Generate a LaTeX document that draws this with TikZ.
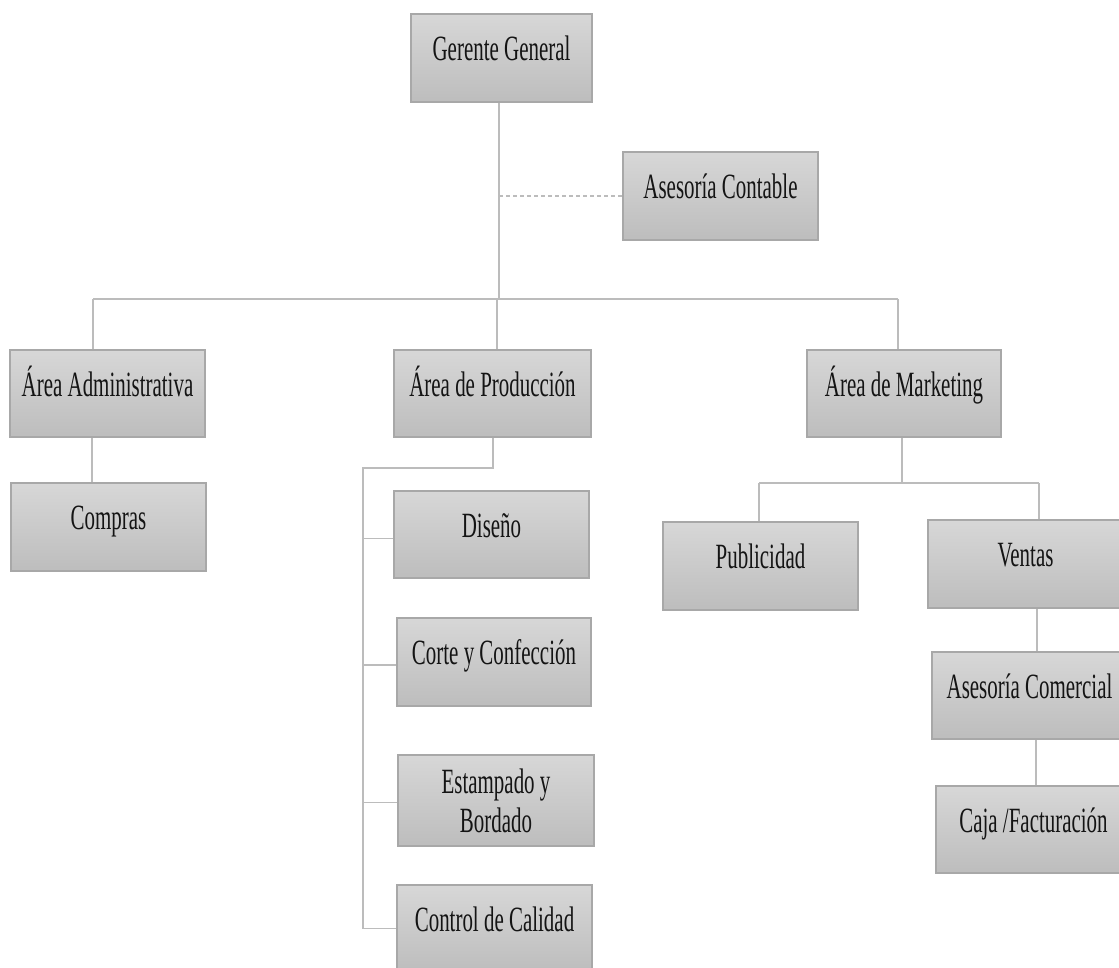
\documentclass[tikz,border=0pt]{standalone}
\usepackage{fontspec}
\setmainfont{Liberation Serif}[FakeStretch=0.59]
\definecolor{boxtop}{RGB}{215,215,215}
\definecolor{boxbot}{RGB}{189,189,189}
\definecolor{boxline}{RGB}{168,168,168}
\definecolor{linkgray}{RGB}{188,188,188}
\definecolor{inkc}{RGB}{20,20,20}
\begin{document}
\begin{tikzpicture}[x=1pt,y=-1pt,
  orgbox/.style={draw=boxline, line width=1.2pt, top color=boxtop, bottom color=boxbot,
    minimum width=195pt, minimum height=87pt, inner sep=0pt, text=inkc,
    font=\fontsize{35.5}{39}\selectfont, text height=26pt, text depth=21pt, align=center},
  twoline/.style={text height={}, text depth={}},
  link/.style={draw=linkgray, line width=1.5pt},
  dottedlink/.style={draw=linkgray, line width=1.5pt, dash pattern=on 4pt off 3pt},
]
\useasboundingbox (0,0) rectangle (1119,967);
\clip (0,0) rectangle (1119,967);

% boxes
\node[orgbox, minimum width=181pt, minimum height=88pt] (gg) at (501.5,58) {Gerente General};
\node[orgbox, minimum height=88pt] (asc) at (720.5,196) {Asesoría Contable};
\node[orgbox] (adm) at (107.5,393.5) {Área Administrativa};
\node[orgbox, minimum height=88pt] (com) at (108.5,527) {Compras};
\node[orgbox, minimum width=197pt] (prod) at (492.5,393.5) {Área de Producción};
\node[orgbox, minimum width=194pt] (mkt) at (904,393.5) {Área de Marketing};
\node[orgbox] (dis) at (491.5,534.5) {Diseño};
\node[orgbox, minimum width=194pt, minimum height=88pt] (cor) at (494,662) {Corte y Confección};
\node[orgbox, twoline, minimum width=196pt, minimum height=91pt] (est) at (496,800.5) {Estampado y\\Bordado};
\node[orgbox, minimum width=195pt] (cal) at (494.5,928.5) {Control de Calidad};
\node[orgbox, minimum height=88pt] (pub) at (760.5,566) {Publicidad};
\node[orgbox, minimum height=88pt] (ven) at (1025.5,564) {Ventas};
\node[orgbox] (asm) at (1029.5,695.5) {Asesoría Comercial};
\node[orgbox] (caj) at (1033.5,829.5) {Caja /Facturación};

% junction points
\coordinate (barL) at (93,299);
\coordinate (barR) at (898,299);
\coordinate (trunk) at (499,299);
\coordinate (prodBar) at (497,299);
\coordinate (prodJ) at (493,468);
\coordinate (spineTop) at (363,468);
\coordinate (mktJ) at (902,483);
\coordinate (pubJ) at (759,483);
\coordinate (venJ) at (1039,483);

% main trunk and top bar
\draw[link] (gg.south -| trunk) -- (trunk);
\draw[link] (barL) -- (barR);
\draw[dottedlink] (trunk |- asc.west) -- (asc.west);

% areas
\draw[link] (barL) -- (barL |- adm.north);
\draw[link] (prodBar) -- (prodBar |- prod.north);
\draw[link] (barR) -- (barR |- mkt.north);

% administration
\draw[link] (adm.south -| 92,0) -- (com.north -| 92,0);

% production
\draw[link] (prodJ |- prod.south) -- (prodJ) -- (spineTop) -- (spineTop |- cal.west);
\draw[link] ([yshift=-4pt]spineTop |- dis.west) -- ([yshift=-4pt]dis.west);
\draw[link] ([yshift=-3pt]spineTop |- cor.west) -- ([yshift=-3pt]cor.west);
\draw[link] ([yshift=-2pt]spineTop |- est.west) -- ([yshift=-2pt]est.west);
\draw[link] (spineTop |- cal.west) -- (cal.west);

% marketing
\draw[link] (mktJ |- mkt.south) -- (mktJ);
\draw[link] (pubJ) -- (venJ);
\draw[link] (pubJ) -- (pubJ |- pub.north);
\draw[link] (venJ) -- (venJ |- ven.north);
\draw[link] (ven.south -| 1037,0) -- (asm.north -| 1037,0);
\draw[link] (asm.south -| 1036,0) -- (caj.north -| 1036,0);
\end{tikzpicture}
\end{document}
